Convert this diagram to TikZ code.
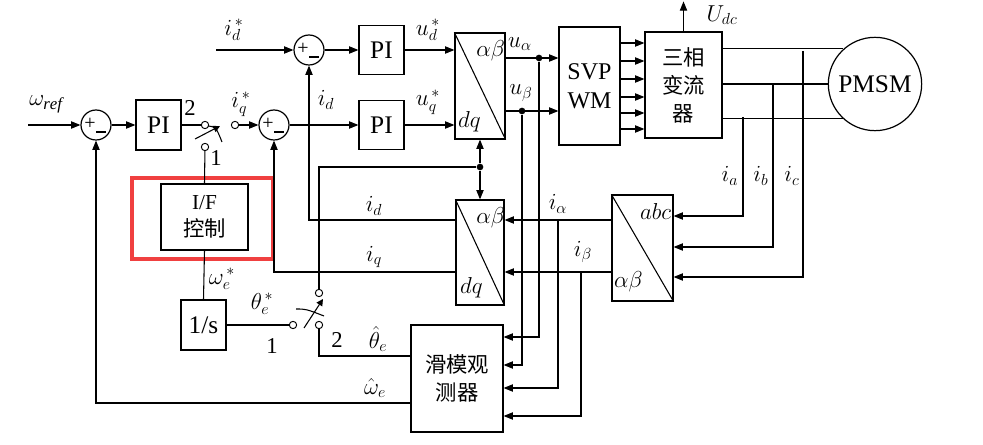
\documentclass[tikz,border=0pt]{standalone}
\usepackage{fontspec}
\setmainfont{Liberation Serif}
\newfontfamily\cjk{Noto Sans CJK SC}
\usetikzlibrary{arrows.meta,calc}
\begin{document}
\begin{tikzpicture}[x=0.75pt,y=-0.75pt,
  box/.style={draw,line width=0.9pt,inner sep=0,align=center,font=\fontsize{19}{21}\selectfont},
  arr/.style={-{Triangle[length=7pt,width=5.5pt]}},
  sum/.style={draw,circle,line width=0.9pt,minimum size=22.5pt,inner sep=0},
  term/.style={draw,circle,line width=0.7pt,minimum size=5.5pt,inner sep=0,fill=white},
  jd/.style={circle,fill,minimum size=5pt,inner sep=0},
  lab/.style={font=\fontsize{18}{20}\selectfont,inner sep=1pt},
  num/.style={font=\fontsize{17}{19}\selectfont,inner sep=1pt},
  every path/.style={line width=0.8pt}]
\useasboundingbox (0,0) rectangle (983,445);
% boxes
\node[box,minimum width=33.75pt,minimum height=37.5pt] (PI1) at (158.5,125) {PI};
\node[box,minimum width=33.75pt,minimum height=37pt] (PId) at (381.5,50) {PI};
\node[box,minimum width=33.75pt,minimum height=37pt] (PIq) at (381.5,125) {PI};
\node[box,minimum width=65.25pt,minimum height=49.5pt,font=\fontsize{16}{20}\selectfont] (IF) at (204.5,217) {I/F\\{\cjk 控制}};
\draw[draw={rgb,255:red,240;green,64;blue,64},line width=2.4pt] (132,178) rectangle (273,259);
\node[box,minimum width=33.75pt,minimum height=37.5pt] (Is) at (203.5,325) {1/s};
\node[box,minimum width=37.5pt,minimum height=79.5pt] (T1) at (480,86) {};
\node[box,minimum width=36pt,minimum height=78.75pt] (T2) at (480,252.5) {};
\node[box,minimum width=45.75pt,minimum height=79.5pt] (ABC) at (642.5,248) {};
\node[box,minimum width=69pt,minimum height=80.25pt,font=\fontsize{16}{21}\selectfont\cjk] (OBS) at (457,378.5) {滑模观\\测器};
\node[box,minimum width=45.75pt,minimum height=88.5pt,font=\fontsize{18}{22}\selectfont] (SVP) at (589.5,86) {SVP\\WM};
\node[box,minimum width=57.75pt,minimum height=79.5pt,font=\fontsize{16}{21}\selectfont\cjk] (INV) at (683.5,85) {三相\\变流\\器};
\node[box,circle,minimum size=70pt] (PMSM) at (875,84) {PMSM};
\draw (T1.north west) -- (T1.south east);
\draw (T2.north west) -- (T2.south east);
\draw (ABC.north west) -- (ABC.south east);
\node[lab] at ($(T1.north east)+(-15,18)$) {$\alpha\beta$};
\node[lab] at ($(T1.south west)+(15,-18)$) {$dq$};
\node[lab] at ($(T2.north east)+(-14,18)$) {$\alpha\beta$};
\node[lab] at ($(T2.south west)+(16,-18)$) {$dq$};
\node[lab] at ($(ABC.north east)+(-18,17)$) {$abc$};
\node[lab] at ($(ABC.south west)+(17,-20)$) {$\alpha\beta$};
% sums
\foreach \n/\p in {s1/{(96,125)},s2/{(274,125)},sd/{(309,50)}}{
  \node[sum] (\n) at \p {};
  \node[font=\fontsize{15}{15}\selectfont,inner sep=0] at ($(\n)+(-6,-1)$) {+};
  \draw ($(\n)+(0,7)$) -- ($(\n)+(10,7)$);}
% terminals
\node[term] (swa) at (205,125) {};
\node[term] (swb) at (235,125) {};
\node[term] (swc) at (205,147) {};
\node[term] (tb) at (319,293) {};
\node[term] (ta) at (293,325) {};
\node[term] (tc) at (319,325) {};
\node[jd] (dot1) at (480,167) {};
\node[jd] (ua) at (539,58) {};
\node[jd] (ub) at (522,111) {};
\coordinate (wref) at (28,125);
\coordinate (idin) at (216,50);
\coordinate (iqj) at (274,272);
\coordinate (idj) at (309,220);
% connectors
\draw[arr] (wref) -- (s1);
\draw[arr] (s1) -- (PI1);
\draw (PI1.east) -- (swa);
\draw[arr] (swb) -- (s2);
\draw[-{Triangle[length=5pt,width=5pt]}] (195,139) -- (220,126);
\draw (208,126) .. controls (216,127) .. (222,142);
\draw (swc) -- (IF.north);
\draw (IF.south) -- (Is.north);
\draw[arr] (T2.west |- iqj) -- (iqj) -- (s2);
\draw[arr] (T2.west |- idj) -| (sd.south);
\draw (Is.east) -- (ta);
\draw[-{Triangle[length=5pt,width=5pt]}] (304,328) -- (323,299);
\draw (296,309) .. controls (306,309) .. (324,316);
\draw (tb) |- (dot1);
\draw (tc) |- (OBS.west |- 0,356);
\draw[arr] (OBS.west |- 0,403) -| (s1.south);
\draw[arr] (idin) -- (sd);
\draw[arr] (sd) -- (PId);
\draw[arr] (s2) -- (PIq);
\draw[arr] (PId.east) -- (T1.west |- PId.east);
\draw[arr] (PIq.east) -- (T1.west |- PIq.east);
\draw[arr] (dot1) -- (T1.south);
\draw[arr] (dot1) -- (T2.north);
\draw[arr] (T1.east |- ua) -- (SVP.west |- ua);
\draw[arr] (ua) |- (OBS.east |- 0,337);
\draw[arr] (T1.east |- ub) -- (SVP.west |- ub);
\draw[arr] (ub) |- (OBS.east |- 0,365);
\draw[arr] (ABC.west |- 0,220) -- (T2.east |- 0,220);
\draw[arr] (558,220) |- (OBS.east |- 0,388);
\draw[arr] (ABC.west |- 0,272) -- (T2.east |- 0,272);
\draw[arr] (581,272) |- (OBS.east |- 0,416);
\foreach \y in {43,61,79,97,113,129} \draw[arr] (SVP.east |- 0,\y) -- (INV.west |- 0,\y);
\draw[arr] (INV.north) -- ++(0,-30);
\draw (INV.east |- PMSM.132.8) -- (PMSM.132.8);
\draw (INV.east |- PMSM.west) -- (PMSM.west);
\draw (INV.east |- PMSM.227.2) -- (PMSM.227.2);
\draw[arr] (803,51) |- (ABC.east |- 0,277);
\draw[arr] (773,84) |- (ABC.east |- 0,247);
\draw[arr] (743,117) |- (ABC.east |- 0,216);
% labels
\node[lab] at (46,104) {$\omega_{\mathit{ref}}$};
\node[num] at (190,108) {2};
\node[num] at (216,158) {1};
\node[lab] at (241,104) {$i_q^{\,*}$};
\node[lab] at (234,30) {$i_d^{\,*}$};
\node[lab] at (326,100) {$i_d$};
\node[lab] at (428,30) {$u_d^{\,*}$};
\node[lab] at (428,102) {$u_q^{\,*}$};
\node[lab] at (520,44) {$u_\alpha$};
\node[lab] at (521,93) {$u_\beta$};
\node[lab] at (374,206) {$i_d$};
\node[lab] at (374,257) {$i_q$};
\node[lab] at (558,204) {$i_\alpha$};
\node[lab] at (583,252) {$i_\beta$};
\node[lab] at (222,279) {$\omega_e^{\,*}$};
\node[lab] at (262,304) {$\theta_e^{\,*}$};
\node[num] at (272,346) {1};
\node[num] at (337,340) {2};
\node[lab] at (378,339) {$\hat{\theta}_e$};
\node[lab] at (375,388) {$\hat{\omega}_e$};
\node[lab] at (722,15) {$U_{dc}$};
\node[lab] at (730,176) {$i_a$};
\node[lab] at (761,176) {$i_b$};
\node[lab] at (792,176) {$i_c$};
\end{tikzpicture}
\end{document}
